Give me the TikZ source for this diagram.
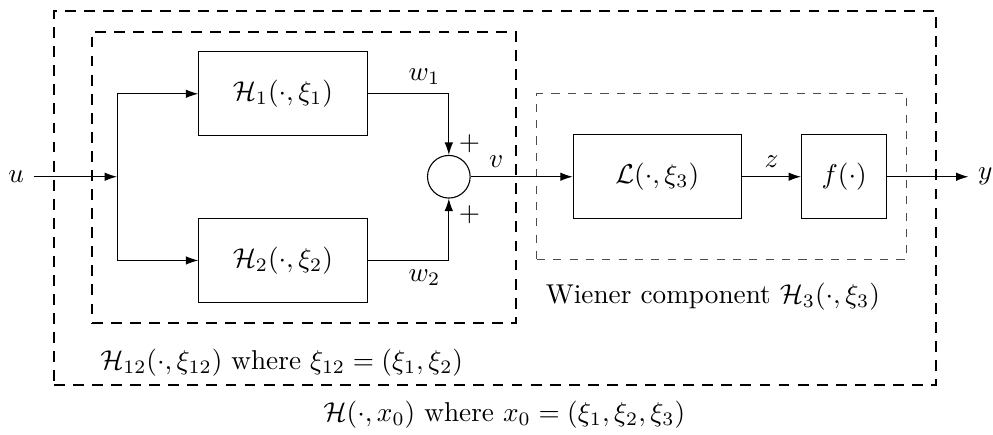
\documentclass[tikz,border=0pt]{standalone}
\usepackage{amsmath}
\usepackage{tikz}
\usetikzlibrary{arrows.meta,positioning}

\begin{document}
\begin{tikzpicture}[
    block/.style={draw, minimum width=2.17cm, minimum height=1.08cm},
    sumnode/.style={draw, circle, minimum size=0.55cm, inner sep=0pt},
    arrow/.style={-{Latex[length=1.6mm, width=1.1mm]}},
    outerbox/.style={draw, thick, dash pattern=on 4pt off 3pt, inner sep=0pt},
    wienerbox/.style={draw, black!70, dashed, inner sep=0pt},
  ]
  \useasboundingbox (0,0) rectangle (12.81,5.60);
  % dashed frames
  \node[outerbox, minimum width=11.38cm, minimum height=4.83cm] (outer) at (6.385,3.045) {};
  \node[outerbox, minimum width=5.47cm, minimum height=3.76cm] (inner) at (3.92,3.31) {};
  \node[wienerbox, minimum width=4.77cm, minimum height=2.14cm] (wiener) at (9.31,3.32) {};
  % blocks
  \node (u) at (0.21,3.32) {$u$};
  \coordinate (split) at (1.51,3.32);
  \node[block] (h1) at (3.65,4.39) {$\mathcal{H}_1(\cdot,\xi_1)$};
  \node[block] (h2) at (3.65,2.24) {$\mathcal{H}_2(\cdot,\xi_2)$};
  \node[sumnode] (sum) at (5.79,3.32) {};
  \node[block] (lin) at (8.48,3.32) {$\mathcal{L}(\cdot,\xi_3)$};
  \node[block, minimum width=1.1cm] (nl) at (10.89,3.32) {$f(\cdot)$};
  \node (y) at (12.71,3.32) {$y$};
  % signals
  \draw[arrow] (u) -- (split);
  \draw[arrow] (split) |- (h1);
  \draw[arrow] (split) |- (h2);
  \draw[arrow] (h1) -| node[above, pos=0.35] {$w_1$} (sum);
  \draw[arrow] (h2) -| node[below, pos=0.35] {$w_2$} (sum);
  \draw[arrow] (sum) -- node[above, pos=0.25] {$v$} (lin);
  \draw[arrow] (lin) -- node[above] {$z$} (nl);
  \draw[arrow] (nl) -- (y);
  \node[above right=-0.5pt and 2.5pt of sum.north, inner sep=1pt] (plusa) {$+$};
  \node[below right=1.5pt and 2.5pt of sum.south, inner sep=1pt] (plusb) {$+$};
  % frame labels
  \node[below right=0.17cm and 0cm of wiener.south west] (wlabel) {Wiener component $\mathcal{H}_3(\cdot,\xi_3)$};
  \node[below right=0.2cm and 0cm of inner.south west] (hlabel) {$\mathcal{H}_{12}(\cdot,\xi_{12})$ where $\xi_{12}=(\xi_1,\xi_2)$};
  \node[below=0.07cm of outer.south, xshift=0.12cm] (label) {$\mathcal{H}(\cdot,x_0)$ where $x_0=(\xi_1,\xi_2,\xi_3)$};
\end{tikzpicture}
\end{document}
